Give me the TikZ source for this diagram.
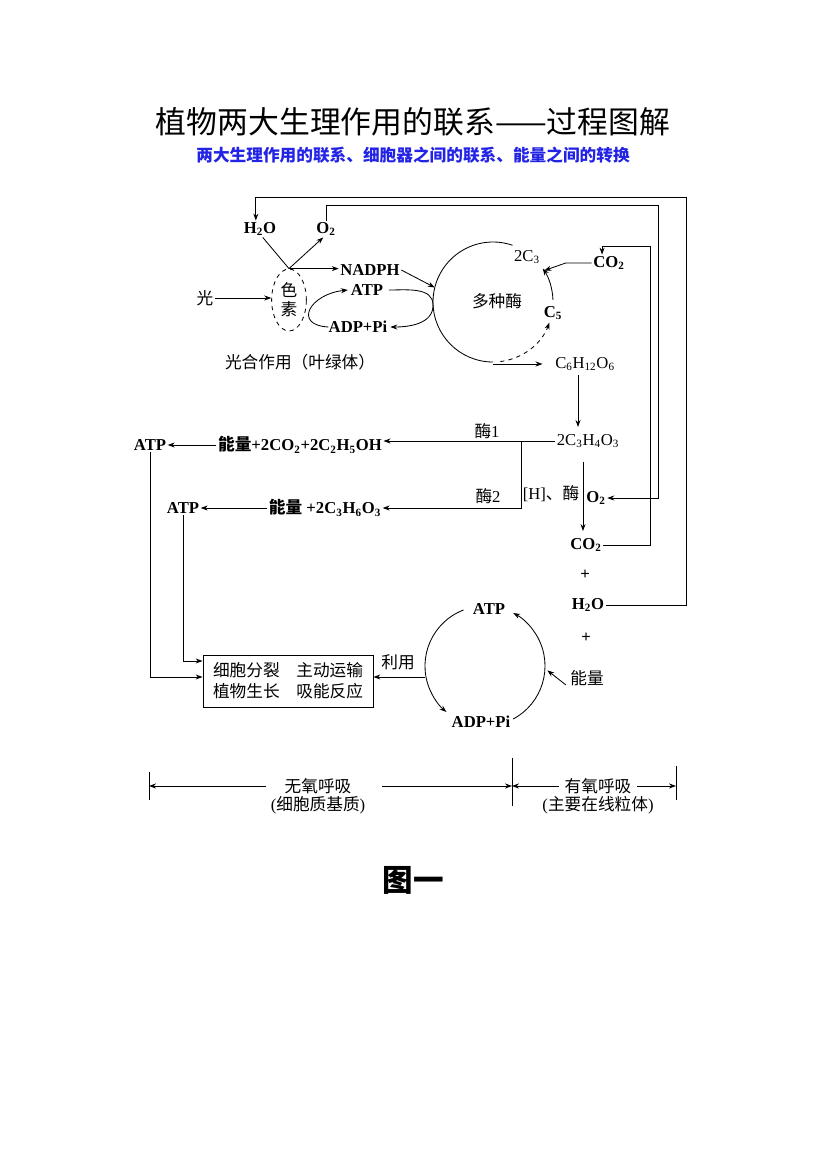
\documentclass[tikz,border=0pt]{standalone}
\usepackage{fontspec}
\setmainfont{Liberation Serif}
\newfontfamily\cjk{Noto Sans CJK SC}
\usetikzlibrary{arrows.meta,shapes.geometric,calc}
\newcommand\sbs[1]{\textsubscript{#1}}
\definecolor{subblue}{RGB}{35,35,230}
\begin{document}
\begin{tikzpicture}[x=0.72pt,y=-0.72pt,
  every node/.style={inner sep=1pt},
  ln/.style={line width=0.6pt},
  arr/.style={ln,-{Stealth[length=5pt,width=3.6pt]}},
  chem/.style={font=\fontsize{12}{14}\selectfont\bfseries},
  chemr/.style={font=\fontsize{12}{14}\selectfont},
  zh/.style={font=\fontsize{12}{14}\selectfont\cjk},
  lat/.style={font=\fontsize{12}{14}\selectfont},
]
\useasboundingbox (0,0) rectangle (826,1169);
\fill[white] (0,0) rectangle (826,1169);

% titles
\node[font=\fontsize{22.2}{26}\selectfont\cjk] (title) at (413,122) {植物两大生理作用的联系——过程图解};
\node[font=\fontsize{12}{14}\selectfont\cjk\bfseries, text=subblue] (sub) at (413,155) {两大生理作用的联系、细胞器之间的联系、能量之间的转换};

% photosynthesis part
\node[chem] (h2ot) at (260,229) {H\sbs{2}O};
\node[chem] (o2t) at (326,229) {O\sbs{2}};
\node[zh] (guang) at (205,298) {光};
\node[ellipse,draw,dashed,ln,minimum width=25pt,minimum height=44.6pt,inner sep=0pt,align=center,font=\fontsize{12}{13.7}\selectfont\cjk] (pig) at (289,300) {色\\素};
\node[chem] (nadph) at (370,270) {NADPH};
\node[chem] (atpl) at (367,290) {ATP};
\node[chem] (adpl) at (358,327) {ADP+Pi};
\node[zh] (gh) at (300,362) {光合作用（叶绿体）};

\coordinate (cc) at (493,302);
\node[zh] (enz) at (497,301) {多种酶};
\node[chemr] (c3) at (527,257) {2C\sbs{3}};
\node[chem] (c5) at (553,313) {C\sbs{5}};
\node[chem] (co2t) at (609,263) {CO\sbs{2}};
\node[chemr] (c6) at (585,364) {C\sbs{6}H\sbs{12}O\sbs{6}};
\node[chemr] (pyr) at (588,441) {2C\sbs{3}H\sbs{4}O\sbs{3}};

\draw[ln] ([xshift=2pt]h2ot.south) -- (pig.north);
\draw[arr] (pig.north) -- ([xshift=-2pt]o2t.south);
\draw[arr] (pig.north) -- (pig.north -| nadph.west);
\draw[arr] (guang) -- (guang -| pig.west);
\draw[arr] (nadph.east) -- ($(cc)+(166:43.2pt)$);
\draw[arr] ([xshift=1pt]adpl.west) .. controls +(-36,-2) and +(-38,4) .. ([xshift=-1pt]atpl.west);
\draw[arr] ([xshift=3pt]atpl.east) to[out=0,in=90] ($(cc)+(183:43.2pt)$) to[out=-90,in=0] ([xshift=1pt]adpl.east);

% Calvin cycle
\draw[ln] ($(cc)+(270:43.2pt)$) arc[start angle=270, end angle=71, radius=43.2pt];
\draw[arr] ($(cc)+(2:43.2pt)$) arc[start angle=2, end angle=34, radius=43.2pt];
\draw[arr,dashed] ($(cc)+(-83:43.2pt)$) arc[start angle=-83, end angle=-20, radius=43.2pt];
\draw[arr] (co2t.west) -- ++(-26,0) -- ([shift={(2pt,-3.6pt)}]c3.south east);
\draw[arr,shorten >=8pt] (cc |- c6.west) -- (c6.west);

% glycolysis
\coordinate (ax) at (578,0);
\draw[arr] ([yshift=-2pt]c6.south -| ax) -- ([yshift=4pt]pyr.north -| ax);

\node[chem] (en1) at (300,445) {{\cjk 能量}+2CO\sbs{2}+2C\sbs{2}H\sbs{5}OH};
\node[chem] (atp1) at (150,445) {ATP};
\node[chem] (en2) at (325,508) {{\cjk 能量} +2C\sbs{3}H\sbs{6}O\sbs{3}};
\node[chem] (atp2) at (183,508) {ATP};
\node[lat] (m1) at (487,431) {{\cjk 酶}1};
\node[lat] (m2) at (488,496) {{\cjk 酶}2};
\node[lat] (hm) at (551,494) {[H]{\cjk 、酶}};

\draw[arr] (pyr.west) -- (pyr.west -| en1.east);
\coordinate (br) at (521,441);
\draw[arr] (br) -- (br |- en2.east) -- (en2.east);
\draw[arr] (en1.west) -- (atp1.east);
\draw[arr] (en2.west) -- (atp2.east);

% aerobic
\node[chem] (o2b) at (596,498) {O\sbs{2}};
\node[chem] (co2b) at (586,545) {CO\sbs{2}};
\node[chem] (plus1) at (585,575) {+};
\node[chem] (h2ob) at (588,605) {H\sbs{2}O};
\node[chem] (plus2) at (586,638) {+};
\coordinate (d1) at (583,462);
\draw[arr] (d1) -- ([yshift=4pt]co2b.north -| d1);

\draw[arr] (o2t.north) |- (658,205) |- (o2b.east);
\draw[arr] (co2b.east) -| (650,246) -| ([xshift=-5pt]co2t.north);
\draw[arr] (h2ob.east) -| (686,197) -| ([xshift=-3pt]h2ot.north);

% box
\node[draw,ln,minimum width=122.4pt,minimum height=37.4pt,align=center,inner sep=2pt,
  font=\fontsize{12}{15}\selectfont\cjk] (box) at (288,681) {细胞分裂\quad 主动运输\\植物生长\quad 吸能反应};
\draw[arr] (atp1.south) |- ([yshift=2.9pt]box.west);
\draw[arr] (atp2.south) |- ([yshift=14.4pt]box.west);
\node[zh] (ly) at (398,662) {利用};
\coordinate (lys) at (425,677);
\draw[arr] (lys) -- (lys -| box.east);

% ATP cycle
\coordinate (cc2) at (485,666);
\node[chem] (atpc) at (489,609) {ATP};
\node[chem] (adpc) at (481,722) {ADP+Pi};
\draw[arr] ($(cc2)+(111:43.2pt)$) arc[start angle=111, end angle=230, radius=43.2pt];
\draw[arr] ($(cc2)+(-62:43.2pt)$) arc[start angle=-62, end angle=62, radius=43.2pt];
\node[zh] (nl) at (587,678) {能量};
\draw[arr] ([shift={(-2pt,-5pt)}]nl.west) -- ($(cc2)+(-4:45pt)$);

% scale bar
\coordinate (b1t) at (149,772); \coordinate (b1b) at (149,800);
\coordinate (b2t) at (512,758); \coordinate (b2b) at (512,806);
\coordinate (b3t) at (676,766); \coordinate (b3b) at (676,800);
\draw[ln] (b1t) -- (b1b);
\draw[ln] (b2t) -- (b2b);
\draw[ln] (b3t) -- (b3b);
\node[zh] (wy) at (318,786) {无氧呼吸};
\node[lat] (wyl) at (318,805) {({\cjk 细胞质基质})};
\node[zh] (yy) at (598,786) {有氧呼吸};
\node[lat] (yyl) at (598,805) {({\cjk 主要在线粒体})};
\draw[arr,shorten <=12pt] (wy.west) -- (wy.west -| b1t);
\draw[arr,shorten <=21pt] (wy.east) -- (wy.east -| b2t);
\draw[arr,shorten <=3pt] (yy.west) -- (yy.west -| b2t);
\draw[arr,shorten <=3pt] (yy.east) -- (yy.east -| b3t);

\node[font=\fontsize{22}{26}\selectfont\cjk\bfseries] (fig) at (413,880) {图一};
\end{tikzpicture}
\end{document}
